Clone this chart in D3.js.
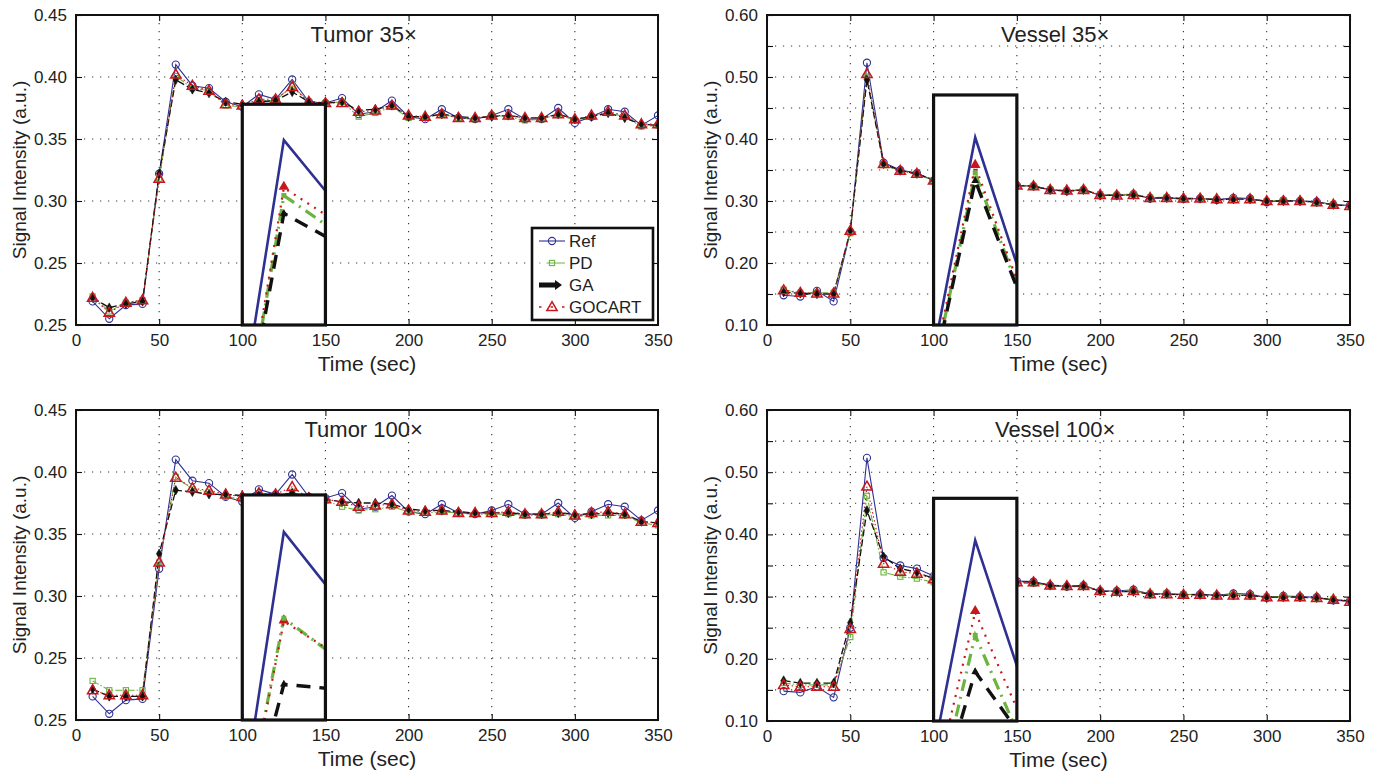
<!DOCTYPE html>
<html>
<head>
<meta charset="utf-8">
<script src="https://cdn.jsdelivr.net/npm/d3@7/dist/d3.min.js"></script>
<style>
  html, body { margin: 0; padding: 0; background: #fff; }
  svg { display: block; font-family: "Liberation Sans", Arial, Helvetica, sans-serif; }
</style>
</head>
<body>
<svg id="chart" width="1378" height="777"></svg>
<script>
// ---- data --------------------------------------------------------------
const times = [10, 20, 30, 40, 50, 60, 70, 80, 90, 100, 110, 120, 130, 140, 150, 160, 170, 180,
               190, 200, 210, 220, 230, 240, 250, 260, 270, 280, 290, 300, 310, 320, 330, 340, 350];

const seriesNames = ["Ref", "PD", "GA", "GOCART"];

// Tumor reference curve (shared by both tumor panels)
const tumorRef    = [0.219, 0.205, 0.216, 0.217, 0.322, 0.410, 0.393, 0.391, 0.380, 0.376, 0.386, 0.382, 0.398, 0.380, 0.379, 0.383, 0.370, 0.372,
                     0.381, 0.368, 0.366, 0.374, 0.367, 0.366, 0.369, 0.374, 0.366, 0.366, 0.375, 0.363, 0.368, 0.374, 0.372, 0.361, 0.369];
const tumor35PD   = [0.223, 0.211, 0.218, 0.220, 0.318, 0.4007, 0.391, 0.389, 0.377, 0.376, 0.381, 0.381, 0.393, 0.380, 0.379, 0.380, 0.368, 0.371,
                     0.376, 0.367, 0.367, 0.370, 0.367, 0.366, 0.369, 0.368, 0.365, 0.366, 0.370, 0.365, 0.368, 0.371, 0.368, 0.360, 0.361];
const tumor35GA   = [0.222, 0.214, 0.217, 0.219, 0.322, 0.3977, 0.390, 0.387, 0.380, 0.378, 0.380, 0.381, 0.388, 0.380, 0.379, 0.380, 0.373, 0.374,
                     0.377, 0.368, 0.368, 0.370, 0.368, 0.367, 0.368, 0.369, 0.367, 0.367, 0.370, 0.366, 0.368, 0.371, 0.367, 0.362, 0.361];
const tumor35GOCART = [0.222, 0.210, 0.218, 0.220, 0.318, 0.402, 0.393, 0.389, 0.378, 0.377, 0.382, 0.382, 0.392, 0.380, 0.379, 0.379, 0.372, 0.373,
                     0.377, 0.369, 0.368, 0.370, 0.367, 0.367, 0.369, 0.369, 0.367, 0.367, 0.370, 0.366, 0.369, 0.372, 0.369, 0.362, 0.362];

const tumor100PD  = [0.2315, 0.224, 0.224, 0.224, 0.327, 0.396, 0.386, 0.384, 0.380, 0.378, 0.380, 0.380, 0.384, 0.378, 0.377, 0.372, 0.369, 0.370,
                     0.372, 0.368, 0.367, 0.368, 0.367, 0.366, 0.366, 0.366, 0.365, 0.365, 0.366, 0.364, 0.365, 0.365, 0.365, 0.359, 0.357];
const tumor100GA  = [0.225, 0.219, 0.219, 0.219, 0.334, 0.3853, 0.384, 0.382, 0.382, 0.381, 0.381, 0.381, 0.383, 0.380, 0.378, 0.376, 0.375, 0.375,
                     0.374, 0.370, 0.369, 0.369, 0.368, 0.367, 0.367, 0.367, 0.366, 0.366, 0.367, 0.366, 0.366, 0.367, 0.366, 0.360, 0.359];
const tumor100GOCART = [0.224, 0.220, 0.220, 0.220, 0.327, 0.3955, 0.387, 0.385, 0.382, 0.380, 0.383, 0.382, 0.388, 0.379, 0.378, 0.376, 0.372, 0.373,
                     0.374, 0.369, 0.368, 0.369, 0.367, 0.367, 0.367, 0.368, 0.366, 0.366, 0.368, 0.365, 0.367, 0.368, 0.366, 0.360, 0.359];

// Vessel reference curve (shared by both vessel panels)
const vesselRef   = [0.148, 0.146, 0.155, 0.138, 0.250, 0.523, 0.362, 0.350, 0.345, 0.333, 0.330, 0.328, 0.327, 0.326, 0.325, 0.324, 0.318, 0.316,
                     0.318, 0.309, 0.309, 0.311, 0.304, 0.305, 0.303, 0.304, 0.302, 0.305, 0.304, 0.298, 0.301, 0.300, 0.299, 0.294, 0.293];
const vessel35PD  = [0.157, 0.152, 0.152, 0.152, 0.248, 0.5005, 0.358, 0.348, 0.343, 0.333, 0.330, 0.328, 0.327, 0.326, 0.325, 0.324, 0.319, 0.317,
                     0.318, 0.311, 0.310, 0.311, 0.306, 0.306, 0.304, 0.304, 0.303, 0.302, 0.303, 0.300, 0.301, 0.300, 0.298, 0.294, 0.292];
const vessel35GA  = [0.153, 0.151, 0.150, 0.150, 0.252, 0.4956, 0.360, 0.349, 0.344, 0.334, 0.331, 0.329, 0.327, 0.326, 0.325, 0.324, 0.318, 0.316,
                     0.318, 0.310, 0.309, 0.310, 0.305, 0.305, 0.304, 0.304, 0.302, 0.303, 0.303, 0.300, 0.300, 0.300, 0.298, 0.294, 0.292];
const vessel35GOCART = [0.156, 0.152, 0.151, 0.151, 0.252, 0.505, 0.360, 0.349, 0.344, 0.333, 0.331, 0.329, 0.327, 0.326, 0.325, 0.324, 0.318, 0.317,
                     0.318, 0.310, 0.309, 0.310, 0.305, 0.305, 0.304, 0.304, 0.303, 0.303, 0.303, 0.300, 0.300, 0.300, 0.298, 0.294, 0.292];

const vessel100PD = [0.161, 0.158, 0.158, 0.158, 0.235, 0.462, 0.339, 0.332, 0.329, 0.323, 0.323, 0.322, 0.322, 0.321, 0.321, 0.321, 0.317, 0.316,
                     0.316, 0.309, 0.308, 0.309, 0.305, 0.305, 0.304, 0.303, 0.302, 0.303, 0.302, 0.300, 0.300, 0.299, 0.298, 0.296, 0.294];
const vessel100GA = [0.165, 0.161, 0.161, 0.161, 0.258, 0.4386, 0.364, 0.345, 0.339, 0.329, 0.327, 0.326, 0.325, 0.324, 0.324, 0.323, 0.318, 0.317,
                     0.317, 0.309, 0.308, 0.308, 0.304, 0.304, 0.303, 0.303, 0.302, 0.302, 0.302, 0.299, 0.299, 0.299, 0.298, 0.295, 0.293];
const vessel100GOCART = [0.158, 0.155, 0.155, 0.155, 0.248, 0.477, 0.353, 0.340, 0.337, 0.328, 0.326, 0.325, 0.324, 0.323, 0.323, 0.323, 0.318, 0.317,
                     0.317, 0.309, 0.308, 0.309, 0.304, 0.304, 0.303, 0.303, 0.302, 0.302, 0.302, 0.299, 0.299, 0.299, 0.298, 0.295, 0.292];

// axis ticks
const xTicks = [0, 50, 100, 150, 200, 250, 300, 350];
const tumorYTicks = [0.20, 0.25, 0.30, 0.35, 0.40, 0.45];
const tumorYTickLabels = ["0.25", "0.25", "0.30", "0.35", "0.40", "0.45"];
const vesselYTicks = [0.10, 0.15, 0.20, 0.25, 0.30, 0.35, 0.40, 0.45, 0.50, 0.55, 0.60];
const vesselYTickLabels = ["0.10", "", "0.20", "", "0.30", "", "0.40", "", "0.50", "", "0.60"];

// ---- styling -------------------------------------------------------------
const colors = { Ref: "#2e3192", PD: "#6db33f", GA: "#111111", GOCART: "#c8161d" };
const lineDash = { Ref: null, PD: "7,2,1.5,2", GA: "7,3", GOCART: "1.5,2.5" };
const insetDash = { Ref: null, PD: "12,6,2,6", GA: "14,9", GOCART: "2,6" };
const insetWidth = { Ref: 2.6, PD: 3.2, GA: 3.4, GOCART: 2.2 };

const svg = d3.select("#chart");
const textColor = "#222";

const panels = [
  { title: "Tumor 35×", left: 76, right: 658, top: 15, bottom: 325,
    yDomain: [0.20, 0.45], yTicks: tumorYTicks, yLabels: tumorYTickLabels,
    series: { Ref: tumorRef, PD: tumor35PD, GA: tumor35GA, GOCART: tumor35GOCART },
    insetTop: 0.378, insetY: [0.379, 0.416], legend: true },
  { title: "Vessel 35×", left: 767, right: 1350, top: 15, bottom: 325,
    yDomain: [0.10, 0.60], yTicks: vesselYTicks, yLabels: vesselYTickLabels,
    series: { Ref: vesselRef, PD: vessel35PD, GA: vessel35GA, GOCART: vessel35GOCART },
    insetTop: 0.471, insetY: [0.404, 0.550], legend: false },
  { title: "Tumor 100×", left: 76, right: 658, top: 410, bottom: 720,
    yDomain: [0.20, 0.45], yTicks: tumorYTicks, yLabels: tumorYTickLabels,
    series: { Ref: tumorRef, PD: tumor100PD, GA: tumor100GA, GOCART: tumor100GOCART },
    insetTop: 0.3815, insetY: [0.3795, 0.416], legend: false },
  { title: "Vessel 100×", left: 767, right: 1350, top: 410, bottom: 721,
    yDomain: [0.10, 0.60], yTicks: vesselYTicks, yLabels: vesselYTickLabels,
    series: { Ref: vesselRef, PD: vessel100PD, GA: vessel100GA, GOCART: vessel100GOCART },
    insetTop: 0.458, insetY: [0.407, 0.550], legend: false }
];

function drawMarker(g, name, cx, cy, scale) {
  const s = scale || 1;
  if (name === "Ref") {
    g.append("circle").attr("cx", cx).attr("cy", cy).attr("r", 3.6 * s)
      .attr("fill", "none").attr("stroke", colors.Ref).attr("stroke-width", 1.1);
  } else if (name === "PD") {
    g.append("rect").attr("x", cx - 2.6 * s).attr("y", cy - 2.6 * s)
      .attr("width", 5.2 * s).attr("height", 5.2 * s)
      .attr("fill", "none").attr("stroke", colors.PD).attr("stroke-width", 1.1);
  } else if (name === "GA") {
    g.append("path").attr("transform", `translate(${cx},${cy})`)
      .attr("d", d3.symbol(d3.symbolDiamond, 26 * s * s)())
      .attr("fill", "#111").attr("stroke", "#111").attr("stroke-width", 0.6);
  } else {
    g.append("path").attr("transform", `translate(${cx},${cy + 0.6})`)
      .attr("d", d3.symbol(d3.symbolTriangle, 46 * s * s)())
      .attr("fill", "none").attr("stroke", colors.GOCART).attr("stroke-width", 1.5);
  }
}

panels.forEach((p, i) => {
  const x = d3.scaleLinear().domain([0, 350]).range([p.left, p.right]);
  const y = d3.scaleLinear().domain(p.yDomain).range([p.bottom, p.top]);
  const g = svg.append("g");

  const clipId = "clip" + i;
  svg.append("clipPath").attr("id", clipId).append("rect")
    .attr("x", p.left).attr("y", p.top).attr("width", p.right - p.left).attr("height", p.bottom - p.top);

  // dotted grid
  const grid = g.append("g").attr("stroke", "#333").attr("stroke-width", 1.1)
    .attr("stroke-dasharray", "1.2,6.8");
  xTicks.slice(1, -1).forEach(t => grid.append("line")
    .attr("x1", x(t)).attr("x2", x(t)).attr("y1", p.top).attr("y2", p.bottom));
  p.yTicks.slice(1, -1).forEach(v => grid.append("line")
    .attr("x1", p.left).attr("x2", p.right).attr("y1", y(v)).attr("y2", y(v)));

  // series lines and markers
  const plot = g.append("g").attr("clip-path", `url(#${clipId})`);
  const line = d3.line().x((d, k) => x(times[k])).y(d => y(d));
  seriesNames.forEach(name => {
    plot.append("path").datum(p.series[name]).attr("d", line)
      .attr("fill", "none").attr("stroke", colors[name])
      .attr("stroke-width", name === "GA" ? 1.3 : 1.1)
      .attr("stroke-dasharray", lineDash[name]);
  });
  seriesNames.forEach(name => {
    p.series[name].forEach((v, k) => drawMarker(plot, name, x(times[k]), y(v)));
  });

  // zoomed inset of the peak
  const bx0 = x(100), bx1 = x(150), by0 = y(p.insetTop), by1 = y(p.yDomain[0]);
  g.append("rect").attr("x", bx0).attr("y", by0).attr("width", bx1 - bx0).attr("height", by1 - by0)
    .attr("fill", "#fff");
  const xi = d3.scaleLinear().domain([55, 65]).range([bx0, bx1]);
  const yi = d3.scaleLinear().domain(p.insetY).range([by1, by0]);
  const insetClip = "inset" + i;
  svg.append("clipPath").attr("id", insetClip).append("rect")
    .attr("x", bx0).attr("y", by0).attr("width", bx1 - bx0).attr("height", by1 - by0);
  const ig = g.append("g").attr("clip-path", `url(#${insetClip})`);
  const iline = d3.line().x((d, k) => xi(times[k])).y(d => yi(d));
  ["Ref", "PD", "GA", "GOCART"].forEach(name => {
    ig.append("path").datum(p.series[name]).attr("d", iline)
      .attr("fill", "none").attr("stroke", colors[name])
      .attr("stroke-width", insetWidth[name])
      .attr("stroke-dasharray", insetDash[name]);
  });
  const k60 = times.indexOf(60);
  ig.append("path").attr("transform", `translate(${xi(60)},${yi(p.series.GOCART[k60]) - 1})`)
    .attr("d", d3.symbol(d3.symbolTriangle, 48)()).attr("fill", colors.GOCART);
  ig.append("rect").attr("x", xi(60) - 2.5).attr("y", yi(p.series.PD[k60]) - 2.5)
    .attr("width", 5).attr("height", 5).attr("fill", colors.PD);
  ig.append("path").attr("transform", `translate(${xi(60)},${yi(p.series.GA[k60])})`)
    .attr("d", d3.symbol(d3.symbolTriangle, 26)()).attr("fill", "#111");
  g.append("rect").attr("x", bx0).attr("y", by0).attr("width", bx1 - bx0).attr("height", by1 - by0)
    .attr("fill", "none").attr("stroke", "#111").attr("stroke-width", 3.2);

  // axes with inward ticks
  const axB = d3.axisBottom(x).tickValues(xTicks).tickSizeInner(-6).tickSizeOuter(0).tickPadding(9);
  const axT = d3.axisTop(x).tickValues(xTicks).tickSizeInner(-6).tickSizeOuter(0).tickFormat("");
  const axL = d3.axisLeft(y).tickValues(p.yTicks).tickSizeInner(-6).tickSizeOuter(0).tickPadding(9)
    .tickFormat((d, k) => p.yLabels[k]);
  const axR = d3.axisRight(y).tickValues(p.yTicks).tickSizeInner(-6).tickSizeOuter(0).tickFormat("");
  const styleAxis = sel => {
    sel.select(".domain").remove();
    sel.selectAll("line").attr("stroke", "#111").attr("stroke-width", 1.1);
    sel.selectAll("text").attr("fill", textColor).style("font-size", "17px")
      .style("font-family", "'Liberation Sans', Arial, sans-serif");
  };
  g.append("g").attr("transform", `translate(0,${p.bottom})`).call(axB).call(styleAxis);
  g.append("g").attr("transform", `translate(0,${p.top})`).call(axT).call(styleAxis);
  g.append("g").attr("transform", `translate(${p.left},0)`).call(axL).call(styleAxis);
  g.append("g").attr("transform", `translate(${p.right},0)`).call(axR).call(styleAxis);

  g.append("rect").attr("x", p.left).attr("y", p.top)
    .attr("width", p.right - p.left).attr("height", p.bottom - p.top)
    .attr("fill", "none").attr("stroke", "#111").attr("stroke-width", 2);

  // titles and axis labels
  g.append("text").attr("x", x(173)).attr("y", p.top + 27).attr("text-anchor", "middle")
    .attr("fill", textColor).style("font-size", "22px").text(p.title);
  g.append("text").attr("x", x(175)).attr("y", p.bottom + 46).attr("text-anchor", "middle")
    .attr("fill", textColor).style("font-size", "21px").text("Time (sec)");
  g.append("text").attr("transform", `translate(${p.left - 50},${(p.top + p.bottom) / 2}) rotate(-90)`)
    .attr("text-anchor", "middle").attr("fill", textColor).style("font-size", "19px")
    .text("Signal Intensity (a.u.)");

  // legend
  if (p.legend) {
    const lg = g.append("g");
    lg.append("rect").attr("x", 532).attr("y", 228).attr("width", 121).attr("height", 92)
      .attr("fill", "#fff").attr("stroke", "#111").attr("stroke-width", 2.6);
    seriesNames.forEach((name, k) => {
      const yy = 241 + k * 22;
      const sx0 = 539, sx1 = 565, cx = 552;
      if (name === "GA") {
        lg.append("line").attr("x1", sx0).attr("x2", sx1 - 9).attr("y1", yy).attr("y2", yy)
          .attr("stroke", "#111").attr("stroke-width", 5);
        lg.append("path").attr("d", `M${sx1 - 10},${yy - 5} L${sx1 - 3},${yy} L${sx1 - 10},${yy + 5} Z`)
          .attr("fill", "#111");
      } else {
        lg.append("line").attr("x1", sx0).attr("x2", sx1).attr("y1", yy).attr("y2", yy)
          .attr("stroke", colors[name]).attr("stroke-width", name === "GOCART" ? 1.6 : 1.1)
          .attr("stroke-dasharray", name === "PD" ? "1.5,6,30" : name === "GOCART" ? "2.5,9" : null);
        drawMarker(lg, name, cx, yy);
      }
      lg.append("text").attr("x", 569).attr("y", yy + 6).attr("fill", textColor)
        .style("font-size", "17px").text(name);
    });
  }
});
</script>
</body>
</html>
